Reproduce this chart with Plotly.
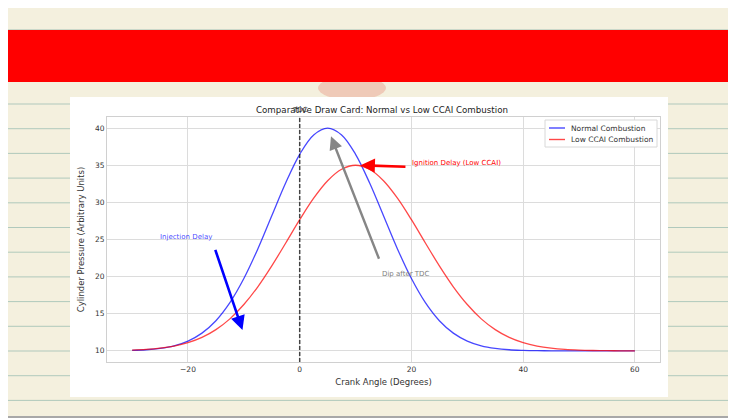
import plotly.graph_objects as go

# ---- data ----
crank_angle = [-30, -27.5, -25, -22.5, -20, -17.5, -15, -12.5, -10, -7.5, -5, -2.5, 0,
               2.5, 5, 7.5, 10, 12.5, 15, 17.5, 20, 22.5, 25, 27.5, 30, 32.5, 35,
               37.5, 40, 42.5, 45, 47.5, 50, 52.5, 55, 57.5, 60]
normal_pressure = [10.07, 10.15, 10.33, 10.68, 11.32, 12.39, 14.06, 16.49, 19.74, 23.73, 28.20,
                   32.64, 36.47, 39.08, 40.00, 39.08, 36.47, 32.64, 28.20, 23.73, 19.74, 16.49,
                   14.06, 12.39, 11.32, 10.68, 10.33, 10.15, 10.07, 10.03, 10.01, 10.0, 10.0,
                   10.0, 10.0, 10.0, 10.0]
low_ccai_pressure = [10.10, 10.19, 10.36, 10.64, 11.10, 11.81, 12.86, 14.31, 16.24, 18.63, 21.45,
                     24.53, 27.67, 30.57, 32.92, 34.46, 35.00, 34.46, 32.92, 30.57, 27.67, 24.53,
                     21.45, 18.63, 16.24, 14.31, 12.86, 11.81, 11.10, 10.64, 10.36, 10.19, 10.10,
                     10.05, 10.02, 10.01, 10.00]
series_names = ["Normal Combustion", "Low CCAI Combustion"]
series_colors = ["rgba(0,0,255,0.72)", "rgba(255,0,0,0.72)"]
x_ticks = [-20, 0, 20, 40, 60]
x_tick_text = ["\u221220", "0", "20", "40", "60"]
y_ticks = [10, 15, 20, 25, 30, 35, 40]

# page body has an 8px margin; work in window pixels and convert
OFF = 8
WIN_W, WIN_H = 736, 418
W, H = WIN_W - OFF, WIN_H - OFF
P_LEFT, P_RIGHT, P_TOP, P_BOT = 107, 660, 117, 362   # plot area in window pixels
L, R = P_LEFT - OFF, W - (P_RIGHT - OFF)
T, B = P_TOP - OFF, H - (P_BOT - OFF)
PW, PH = P_RIGHT - P_LEFT, P_BOT - P_TOP

def px(xp):
    return (xp - P_LEFT) / PW

def py(yp):
    return (P_BOT - yp) / PH

FONT = "DejaVu Sans"
fig = go.Figure()
for name, vals, col in zip(series_names, [normal_pressure, low_ccai_pressure], series_colors):
    fig.add_trace(go.Scatter(x=crank_angle, y=vals, mode="lines", name=name, showlegend=False,
                             line=dict(color=col, width=1.3, shape="spline")))

shapes = []
# notebook-paper background lines
for i in range(-3, 13):
    yy = 104 + i * 24.7
    shapes.append(dict(type="line", xref="paper", yref="paper", x0=px(0), x1=px(WIN_W),
                       y0=py(yy), y1=py(yy), line=dict(color="rgba(120,170,160,0.55)", width=1),
                       layer="below"))
# faint red blob behind chart
shapes.append(dict(type="circle", xref="paper", yref="paper", x0=px(318), x1=px(386),
                   y0=py(100), y1=py(76), fillcolor="rgba(232,150,130,0.42)", line=dict(width=0),
                   layer="below"))
# red band
shapes.append(dict(type="rect", xref="paper", yref="paper", x0=px(0), x1=px(WIN_W), y0=py(82), y1=py(30),
                   fillcolor="#ff0000", line=dict(width=0), layer="below"))
# borders
shapes.append(dict(type="rect", xref="paper", yref="paper", x0=px(732), x1=px(WIN_W), y0=py(WIN_H), y1=py(0),
                   fillcolor="#9a9a9a", line=dict(width=0), layer="below"))
shapes.append(dict(type="rect", xref="paper", yref="paper", x0=px(0), x1=px(WIN_W), y0=py(WIN_H), y1=py(416),
                   fillcolor="#a8a8a8", line=dict(width=0), layer="below"))
# white chart card
shapes.append(dict(type="rect", xref="paper", yref="paper", x0=px(70), x1=px(668), y0=py(397), y1=py(97),
                   fillcolor="white", line=dict(width=0), layer="below"))
# TDC dashed line
shapes.append(dict(type="line", xref="x", yref="paper", x0=0, x1=0, y0=0, y1=1,
                   line=dict(color="rgba(0,0,0,0.7)", width=1.5, dash="4px,2px")))

annotations = [
    dict(x=0, y=py(110), xref="x", yref="paper", text="TDC", showarrow=False,
         font=dict(family=FONT, size=7, color="#333333"), yanchor="middle"),
    # gray arrow
    dict(x=5.6, y=38.9, ax=14.3, ay=22.2, xref="x", yref="y", axref="x", ayref="y", text="",
         showarrow=True, arrowhead=2, arrowsize=1.1, arrowwidth=2.4, arrowcolor="rgba(128,128,128,0.95)"),
    dict(x=14.4, y=20.3, xref="x", yref="y", text="Dip after TDC", showarrow=False, xanchor="left",
         font=dict(family=FONT, size=7, color="gray")),
    # red arrow
    dict(x=10.9, y=35, ax=19.2, ay=34.8, xref="x", yref="y", axref="x", ayref="y", text="",
         showarrow=True, arrowhead=2, arrowsize=1.1, arrowwidth=2.6, arrowcolor="red"),
    dict(x=19.8, y=35.3, xref="x", yref="y", text="Ignition Delay (Low CCAI)", showarrow=False,
         xanchor="left", font=dict(family=FONT, size=7, color="red")),
    # blue arrow
    dict(x=-10.25, y=12.8, ax=-15.2, ay=23.8, xref="x", yref="y", axref="x", ayref="y", text="",
         showarrow=True, arrowhead=2, arrowsize=1.1, arrowwidth=2.6, arrowcolor="blue"),
    dict(x=-25.3, y=25.4, xref="x", yref="y", text="Injection Delay", showarrow=False,
         xanchor="left", font=dict(family=FONT, size=7, color="rgba(0,0,255,0.75)")),
]

# legend box (drawn by hand for compact spacing)
shapes.append(dict(type="rect", xref="paper", yref="paper", x0=px(545), x1=px(657), y0=py(147), y1=py(120),
                   fillcolor="white", line=dict(color="#d8d8d8", width=1)))
for i, (name, col) in enumerate(zip(series_names, series_colors)):
    yy = 128 + i * 11.5
    shapes.append(dict(type="line", xref="paper", yref="paper", x0=px(549), x1=px(565),
                       y0=py(yy), y1=py(yy), line=dict(color=col, width=1.4)))
    annotations.append(dict(x=px(569), y=py(yy), xref="paper", yref="paper", text=name, showarrow=False,
                            xanchor="left", yanchor="middle",
                            font=dict(family=FONT, size=7.5, color="#333333")))

fig.update_layout(
    width=W, height=H,
    margin=dict(l=L, r=R, t=T, b=B, pad=0),
    paper_bgcolor="#f4f0de",
    plot_bgcolor="white",
    font=dict(family=FONT, size=8, color="#333333"),
    title=dict(text="Comparative Draw Card: Normal vs Low CCAI Combustion", x=(382 - OFF) / W,
               xref="container", xanchor="center", yref="container", y=(WIN_H - 110) / H,
               yanchor="middle", font=dict(family=FONT, size=8.7, color="#222222")),
    shapes=shapes,
    annotations=annotations,
    showlegend=False,
)
fig.update_xaxes(range=[-34.5, 64.5], tickvals=x_ticks, ticktext=x_tick_text,
                 showgrid=True, gridcolor="#dcdcdc", gridwidth=1, zeroline=False,
                 showline=True, mirror=True, linecolor="#d0d0d0", linewidth=1, ticks="",
                 tickfont=dict(size=7.5, color="#333333"),
                 title=dict(text="Crank Angle (Degrees)", font=dict(size=8.5, color="#333333"), standoff=6))
fig.update_yaxes(range=[8.5, 41.5], tickvals=y_ticks,
                 showgrid=True, gridcolor="#dcdcdc", gridwidth=1, zeroline=False,
                 showline=True, mirror=True, linecolor="#d0d0d0", linewidth=1, ticks="",
                 tickfont=dict(size=7.5, color="#333333"),
                 title=dict(text="Cylinder Pressure (Arbitrary Units)", font=dict(size=8.5, color="#333333"),
                            standoff=8))

fig.write_html("out.html")
